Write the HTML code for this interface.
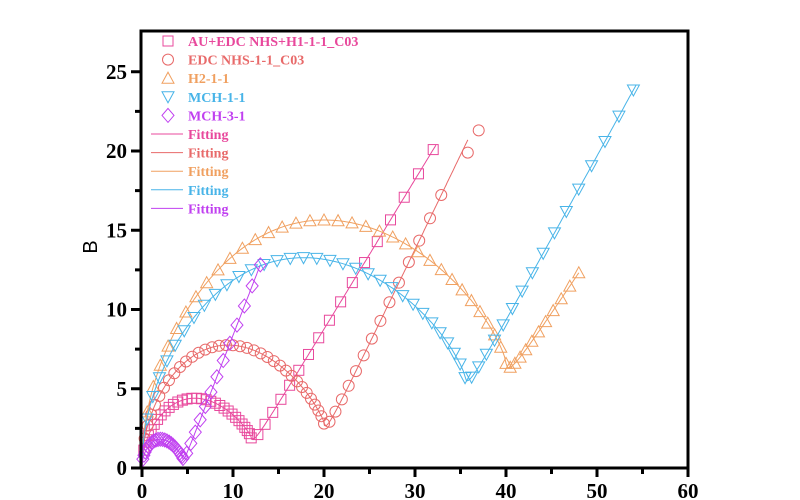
<!DOCTYPE html>
<html><head><meta charset="utf-8"><style>
html,body{margin:0;padding:0;background:#fff;}
svg{display:block;}
text{font-family:"Liberation Serif",serif;font-weight:bold;}
</style></head><body>
<svg id="s" width="800" height="500" xmlns="http://www.w3.org/2000/svg">
<rect width="800" height="500" fill="#fff"/>
<g id="data"></g>
<rect x="141" y="31" width="547" height="437" fill="none" stroke="#000" stroke-width="3"/>
<g id="ticks" stroke="#000" stroke-width="3"></g>
<g id="lbl" font-size="21" fill="#000"></g>
<text x="97" y="247" font-size="20" transform="rotate(-90 97 247)" text-anchor="middle" style="font-weight:normal;font-family:'Liberation Sans',sans-serif">B</text>
<g id="leg" font-size="14"></g>
</svg>
<script>
var NS="http://www.w3.org/2000/svg";
function X(v){return 142+v*9.1;}
function Y(v){return 468-v*15.85;}
function el(p,t,a){var e=document.createElementNS(NS,t);for(var k in a)e.setAttribute(k,a[k]);p.appendChild(e);return e;}
var tk=document.getElementById('ticks'),lb=document.getElementById('lbl');
for(var i=0;i<=12;i++){var x=X(i*5);el(tk,'line',{x1:x,y1:468,x2:x,y2:i%2?474:477});
 if(i%2==0){var t=el(lb,'text',{x:x,y:498,'text-anchor':'middle'});t.textContent=i*5;}}
for(var i=0;i<=5;i++){var y=Y(i*5);el(tk,'line',{x1:141,y1:y,x2:131,y2:y});
 var t=el(lb,'text',{x:127,y:y+7,'text-anchor':'end'});t.textContent=i*5;
 if(i<5){var y2=Y(i*5+2.5);el(tk,'line',{x1:141,y1:y2,x2:135,y2:y2});}}
var S=[
 {c:'#e8489c',m:'sq',xm:12,ym:1.9,h:4.4,xe:32,ye:20.8,xl:32.3,na:30,nl:17,e:1.5},
 {c:'#e86a6a',m:'ci',xm:20,ym:2.8,h:7.8,xe:35.5,ye:21.3,xl:35.8,na:34,nl:16,e:2.0},
 {c:'#f0a060',m:'tu',xm:40,ym:6.6,h:15.8,xe:48,ye:13.5,xl:48,na:34,nl:11,e:2.6},
 {c:'#48b4e8',m:'td',xm:35.5,ym:5.7,h:13.4,xe:54,ye:25,xl:54.3,na:32,nl:16,e:2.4},
 {c:'#c040f0',m:'di',xm:4.5,ym:0.6,h:1.8,xe:13,ye:13.2,xl:13,na:24,nl:13,e:0.8}];
var dg=document.getElementById('data');
function mk(g,type,x,y,c){var a={fill:'none',stroke:c,'stroke-width':1};
 if(type=='sq'){a.x=x-5;a.y=y-5;a.width=10;a.height=10;el(g,'rect',a);}
 else if(type=='ci'){a.cx=x;a.cy=y;a.r=5.5;el(g,'circle',a);}
 else if(type=='tu'){a.points=(x-6)+','+(y+5)+' '+(x+6)+','+(y+5)+' '+x+','+(y-6);el(g,'polygon',a);}
 else if(type=='td'){a.points=(x-6)+','+(y-5)+' '+(x+6)+','+(y-5)+' '+x+','+(y+6);el(g,'polygon',a);}
 else {a.points=x+','+(y-7)+' '+(x+6)+','+y+' '+x+','+(y+7)+' '+(x-6)+','+y;el(g,'polygon',a);}}
S.forEach(function(s){
 var ym=s.ym-s.e/2;
 var sl=(s.ye-s.ym)/(s.xe-s.xm);
 var A=s.h-ym/2;
 function arc(x){var u=x/s.xm;u=u>0?Math.pow(u,0.8):u;var sn=Math.sin(Math.PI*u);var v=sn>=0?Math.pow(sn,0.6):-Math.pow(-sn,0.6);return ym*x/s.xm+A*v;}
 function ln(x){return ym+sl*(x-s.xm);}
 function f(x){var a=arc(x),b=ln(x);return (a+b+Math.sqrt((a-b)*(a-b)+s.e*s.e))/2;}
 var pts=[];var xend=s.xl;
 for(var i=0;i<=300;i++){var x=xend*i/300;pts.push([x,f(x)]);}
 el(dg,'polyline',{points:pts.map(function(p){return X(p[0]).toFixed(1)+','+Y(p[1]).toFixed(1)}).join(' '),fill:'none',stroke:s.c,'stroke-width':1});
 for(var i=1;i<=s.na;i++){var t=i/s.na;var x=s.xm*(0.45*t+0.55*(1-Math.cos(Math.PI*t))/2);mk(dg,s.m,X(x),Y(f(x)),s.c);}
 var nl=s.m=='ci'?s.nl-2:s.nl;
 for(var i=1;i<=nl;i++){var t=i/s.nl;var x=s.xm+(s.xe-s.xm)*(0.6*t+0.4*t*t);mk(dg,s.m,X(x),Y(f(x)),s.c);}
 if(s.m=='ci'){mk(dg,'ci',X(35.8),Y(19.9),s.c);mk(dg,'ci',X(37),Y(21.3),s.c);}
});
var lg=document.getElementById('leg');
var names=['AU+EDC NHS+H1-1-1_C03','EDC NHS-1-1_C03','H2-1-1','MCH-1-1','MCH-3-1'];
for(var i=0;i<10;i++){var y=41+i*18.6;var s=S[i%5];
 if(i<5){mk(lg,s.m,168,y,s.c);}else{el(lg,'line',{x1:151,y1:y,x2:183,y2:y,stroke:s.c,'stroke-width':1});}
 var t=el(lg,'text',{x:188,y:y+5,fill:s.c});t.textContent=i<5?names[i]:'Fitting';}
</script>
</body></html>
